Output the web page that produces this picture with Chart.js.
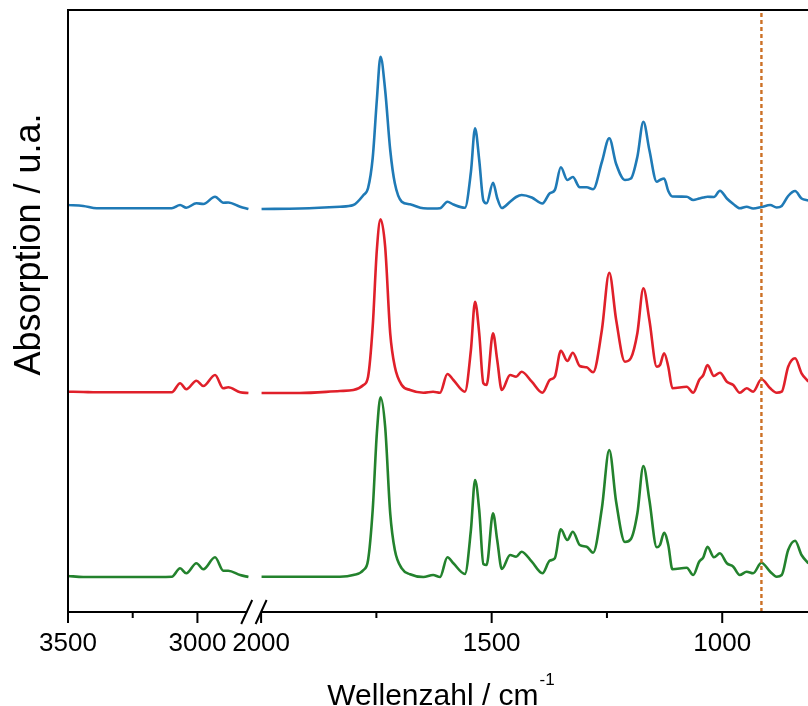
<!DOCTYPE html>
<html lang="de">
<head>
  <meta charset="UTF-8">
  <title>IR-Spektren</title>
  <script src="https://cdn.jsdelivr.net/npm/chart.js"></script>
  <style>
    body { margin: 0; background: #fff; }
    canvas { display: block; }
  </style>
</head>
<body>
  <canvas id="myChart" width="808" height="706"></canvas>

  <script>
    // wavenumbers (cm-1) of the two axis segments
    const wnLeft = [3500, 3441, 3389, 3222, 3099, 3067, 3043, 3004, 2977, 2932, 2900, 2881, 2835, 2803];
    const wnRight = [1999, 1916, 1829, 1800, 1778, 1768, 1758, 1749, 1741, 1731, 1720, 1710, 1695, 1677,
      1648, 1627, 1612, 1596, 1583, 1558, 1545, 1536, 1527, 1518, 1511, 1497, 1488, 1478, 1460, 1447,
      1435, 1413, 1390, 1374, 1363, 1350, 1336, 1324, 1309, 1294, 1280, 1261, 1245, 1230, 1211, 1198,
      1184, 1171, 1158, 1142, 1135, 1126, 1117, 1108, 1077, 1063, 1050, 1041, 1032, 1018, 1005, 990,
      976, 962, 947, 933, 915, 896, 882, 871, 857, 842, 828, 813];

    // absorption (a.u.) above each spectrum's own baseline
    const blueLeft = [4, 3, 0.7, 0.7, 0.7, 4, 1.3, 5.7, 5, 12.3, 6.3, 6.5, 2.3, 0];
    const blueRight = [0, 0.5, 2.3, 4, 14, 21, 51, 109, 152.3, 119, 59, 25.7, 7.3, 4.7, 0.7, 0.5, 0.7,
      7.3, 4.5, 1.3, 37, 80.7, 49, 8.5, 5.7, 26.3, 11, 1, 7.3, 12, 14, 11.5, 5.5, 15.7, 19, 41.7, 29,
      32, 21.7, 21.7, 19.7, 47, 70.7, 45, 29, 30.5, 52.3, 87.3, 59, 27.3, 29, 30.5, 18, 12.5, 12.3, 9,
      10.5, 11.5, 12.3, 12, 18.3, 10.5, 5, 0.7, 2.3, 0.5, 2, 4, 1.5, 3, 13, 18, 10.5, 8.5];

    const redLeft = [1.3, 1, 0.7, 0.7, 0.7, 9.7, 3.7, 12.3, 7, 18, 4.7, 5.7, 0.7, 0];
    const redRight = [0, 0, 2, 3, 8, 16.3, 66.3, 143, 173.7, 146.3, 59.7, 26.3, 8, 3, 0.3, 1.3, 0.3,
      19, 13, 1.3, 43, 91.3, 59.7, 9.7, 8, 59.7, 33, 3, 18, 16.3, 21.3, 11.3, 0.3, 13, 16.3, 42.3, 32,
      40.3, 27, 25.7, 20.7, 63, 120.3, 73, 31.3, 35, 60, 104.7, 73, 26.3, 28, 39.7, 26.3, 4.7, 6.3, 0.3,
      13, 18, 28, 17, 20.3, 11.3, 8, 0.3, 4.7, 1.3, 13.7, 4.7, 0.3, 1.3, 26.3, 34.7, 19.7, 11.3];

    const greenLeft = [1, 0, 0, 0, 0.3, 8.7, 3.7, 13.7, 7.7, 19.7, 6.3, 6.3, 2, 0];
    const greenRight = [0.3, 0.3, 0.3, 2, 7, 17, 67, 143.7, 179.7, 150.3, 63.7, 27, 8.7, 2.7, 0, 2, 0,
      19.7, 13.7, 3, 47, 97, 67, 13, 12, 63.7, 37, 8, 22, 20.3, 25.3, 15.3, 3.7, 16.3, 18.7, 47.7, 37,
      45.3, 32, 30.3, 24.3, 68.7, 127, 75, 35, 38, 63.7, 111, 77, 29.7, 32, 44.3, 32, 7.7, 9.3, 2, 15.3,
      19.7, 30.3, 19.7, 23.7, 13.7, 10.3, 2, 5.3, 3.7, 14.3, 5.3, 0.3, 2, 27, 36.3, 22, 13.7];

    // vertical stacking of the three spectra
    const offsets = { blue: 403, red: 219, green: 35 };

    const majorTicks = [3500, 3000, 2000, 1500, 1000];
    const minorTicks = [3250, 1750, 1250];
    const markerWn = 915;

    // broken axis: 3500-2800 | 2000-813, mapped onto one linear scale
    const AXIS_MAX = 740;
    const LEFT_K = 181.2 / 700;
    const RIGHT_START = 193.1;
    const RIGHT_K = (AXIS_MAX - RIGHT_START) / (2000 - 814);
    function xPos(wn) {
      if (wn >= 2400) return (3500 - wn) * LEFT_K;
      return RIGHT_START + (2000 - wn) * RIGHT_K;
    }

    function series(left, right, off) {
      const pts = left.map((v, i) => ({ x: xPos(wnLeft[i]), y: v + off }));
      pts.push({ x: (xPos(2800) + xPos(2000)) / 2, y: null });
      right.forEach((v, i) => pts.push({ x: xPos(wnRight[i]), y: v + off }));
      return pts;
    }

    const FONT = "'Liberation Sans', Arial, sans-serif";

    const lineStyle = {
      borderWidth: 2.6,
      pointRadius: 0,
      cubicInterpolationMode: 'monotone',
      spanGaps: false,
      fill: false
    };

    const frame = {
      id: 'frame',
      afterDraw(chart) {
        const { ctx, chartArea: a, scales: { x } } = chart;
        const xl = x.getPixelForValue(xPos(2800));
        const xr = x.getPixelForValue(xPos(2000));
        ctx.save();
        ctx.strokeStyle = '#000';
        ctx.lineWidth = 2;
        ctx.beginPath();
        ctx.moveTo(a.left, a.bottom);
        ctx.lineTo(a.left, a.top);
        ctx.lineTo(a.right + 2, a.top);
        ctx.moveTo(a.left - 1, a.bottom);
        ctx.lineTo(xl - 2, a.bottom);
        ctx.moveTo(xr, a.bottom);
        ctx.lineTo(a.right + 2, a.bottom);
        majorTicks.forEach(wn => {
          const px = x.getPixelForValue(xPos(wn));
          ctx.moveTo(px, a.bottom);
          ctx.lineTo(px, a.bottom + 11);
        });
        minorTicks.forEach(wn => {
          const px = x.getPixelForValue(xPos(wn));
          ctx.moveTo(px, a.bottom);
          ctx.lineTo(px, a.bottom + 6);
        });
        ctx.stroke();

        // break marks
        ctx.lineWidth = 2;
        ctx.beginPath();
        [xl - 2.5, xr].forEach(cx => {
          ctx.moveTo(cx - 5.5, a.bottom + 12);
          ctx.lineTo(cx + 5.5, a.bottom - 12);
        });
        ctx.stroke();

        // axis titles
        ctx.fillStyle = '#000';
        const main = 'Wellenzahl / cm';
        ctx.font = '17px ' + FONT;
        const supW = ctx.measureText('-1').width;
        ctx.font = '30px ' + FONT;
        const mainW = ctx.measureText(main).width;
        const startX = 441 - (mainW + supW + 1) / 2;
        ctx.textAlign = 'left';
        ctx.textBaseline = 'alphabetic';
        ctx.fillText(main, startX, 705);
        ctx.font = '17px ' + FONT;
        ctx.fillText('-1', startX + mainW + 1, 685);

        ctx.translate(40, 244.5);
        ctx.rotate(-Math.PI / 2);
        ctx.font = '36px ' + FONT;
        ctx.textAlign = 'center';
        ctx.fillText('Absorption / u.a.', 0, 0);
        ctx.restore();
      }
    };

    const ctx = document.getElementById('myChart');
    const myChart = new Chart(ctx, {
      type: 'line',
      data: {
        datasets: [
          {
            data: [{ x: xPos(markerWn), y: 0 }, { x: xPos(markerWn), y: 602 }],
            borderColor: '#cc7025',
            borderWidth: 2.4,
            borderDash: [4, 3],
            pointRadius: 0,
            tension: 0
          },
          Object.assign({ data: series(blueLeft, blueRight, offsets.blue), borderColor: '#1f7ab6' }, lineStyle),
          Object.assign({ data: series(redLeft, redRight, offsets.red), borderColor: '#e0202a' }, lineStyle),
          Object.assign({ data: series(greenLeft, greenRight, offsets.green), borderColor: '#23822d' }, lineStyle)
        ]
      },
      options: {
        responsive: false,
        animation: false,
        layout: { padding: { left: 68, top: 10, right: 0, bottom: 0 } },
        plugins: {
          legend: { display: false },
          tooltip: { enabled: false }
        },
        scales: {
          x: {
            type: 'linear',
            min: 0,
            max: AXIS_MAX,
            grid: { display: false, drawTicks: false },
            border: { display: false },
            afterBuildTicks: scale => {
              scale.ticks = majorTicks.map(wn => ({ value: xPos(wn) }));
            },
            afterFit: scale => { scale.height = 94; },
            ticks: {
              autoSkip: false,
              maxRotation: 0,
              padding: 16,
              color: '#000',
              font: { family: FONT, size: 26 },
              callback: (v, i) => String(majorTicks[i])
            }
          },
          y: {
            display: false,
            min: 0,
            max: 602
          }
        }
      },
      plugins: [frame]
    });
  </script>
</body>
</html>
